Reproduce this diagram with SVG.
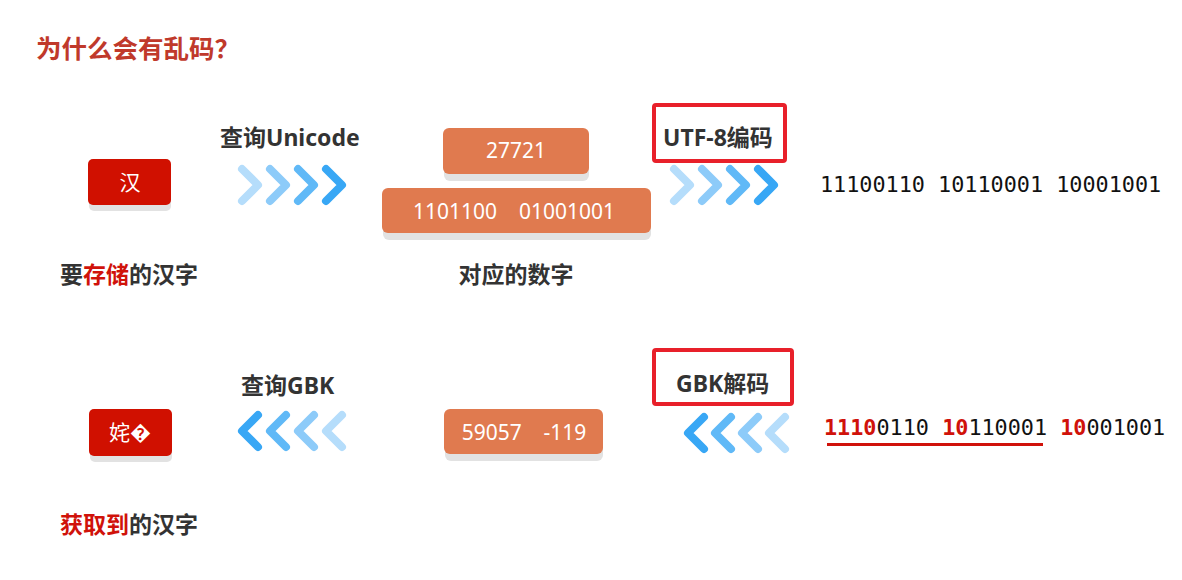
<svg xmlns="http://www.w3.org/2000/svg" width="1182" height="580" viewBox="0 0 1182 580">
<style>
.cjk{font-family:"Noto Sans CJK SC","Noto Sans",sans-serif;}
.lbl{font-family:"Noto Sans","Noto Sans CJK SC",sans-serif;font-weight:bold;font-size:23px;fill:#333;}
.red{fill:#d0120a;}
.boxr{fill:#d01000;}
.boxo{fill:#e07a4f;}
.shadow{fill:#e2e2e2;}
.wt{fill:#fff;font-family:"Noto Sans","Noto Sans CJK SC",sans-serif;font-size:21px;text-anchor:middle;}
.mono{font-family:"DejaVu Sans Mono",monospace;font-size:21.8px;fill:#111;}
.frame{fill:none;stroke:#e8202a;stroke-width:4;}
.ch{fill:none;stroke-width:8;stroke-linecap:round;stroke-linejoin:round;}
.c1{stroke:#b5ddfb;}.c2{stroke:#8dcbf9;}.c3{stroke:#60b9f7;}.c4{stroke:#38a7f5;}
</style>
<defs>
<path id="r" d="M-8,-16 L8,0 L-8,16"/>
<path id="l" d="M8,-16 L-8,0 L8,16"/>
</defs>
<rect width="1182" height="580" fill="#fff"/>
<text x="36" y="58" class="cjk" font-size="25.5" font-weight="bold" fill="#c0392b">为什么会有乱码？</text>

<g id="node-han">
<rect x="89" y="165" width="82" height="46" rx="5" class="shadow"/>
<rect x="88" y="159" width="83" height="46" rx="5" class="boxr"/>
<text x="130" y="190" class="wt">汉</text>
<text x="60" y="283" class="lbl">要<tspan class="red">存储</tspan>的汉字</text>
</g>

<g id="node-unicode-label">
<text x="220" y="146" class="lbl">查询Unicode</text>
</g>

<g id="node-numbers">
<rect x="444" y="135" width="145" height="46" rx="6" class="shadow"/>
<rect x="443" y="128" width="146" height="46" rx="6" class="boxo"/>
<text x="516" y="158" class="wt">27721</text>
<rect x="383" y="195" width="268" height="45" rx="6" class="shadow"/>
<rect x="382" y="188" width="269" height="45" rx="6" class="boxo"/>
<text x="514" y="219" class="wt" xml:space="preserve">1101100    01001001</text>
<text x="516" y="283" class="lbl" text-anchor="middle">对应的数字</text>
</g>

<g id="node-utf8">
<rect x="654" y="105" width="131" height="56" rx="2" class="frame"/>
<text x="663" y="146" class="lbl">UTF-8编码</text>
<text x="820" y="192" class="mono">11100110 10110001 10001001</text>
</g>

<g id="node-result">
<rect x="90" y="416" width="82" height="46" rx="5" class="shadow"/>
<rect x="89" y="409" width="83" height="47" rx="5" class="boxr"/>
<text x="130" y="440" class="wt">姹�</text>
<text x="60" y="533" class="lbl"><tspan class="red">获取到</tspan>的汉字</text>
</g>

<g id="node-gbk-label">
<text x="241" y="394" class="lbl">查询GBK</text>
</g>

<g id="node-gbk-numbers">
<rect x="445" y="416" width="158" height="45" rx="6" class="shadow"/>
<rect x="444" y="409" width="159" height="45" rx="6" class="boxo"/>
<text x="524" y="440" class="wt" xml:space="preserve">59057    -119</text>
</g>

<g id="node-gbk">
<rect x="654" y="350" width="138" height="54" rx="2" class="frame"/>
<text x="676" y="392" class="lbl">GBK解码</text>
<text x="824" y="435" class="mono" xml:space="preserve"><tspan fill="#d0120a" font-weight="bold">1110</tspan>0110 <tspan fill="#d0120a" font-weight="bold">10</tspan>110001 <tspan fill="#d0120a" font-weight="bold">10</tspan>001001</text>
<rect x="827" y="443" width="216" height="3" fill="#d0120a"/>
</g>

<g id="connectors">
<g class="ch">
<use href="#r" transform="translate(250,185)" class="c1"/>
<use href="#r" transform="translate(278,185)" class="c2"/>
<use href="#r" transform="translate(306,185)" class="c3"/>
<use href="#r" transform="translate(334,185)" class="c4"/>
<use href="#r" transform="translate(682,185)" class="c1"/>
<use href="#r" transform="translate(710,185)" class="c2"/>
<use href="#r" transform="translate(738,185)" class="c3"/>
<use href="#r" transform="translate(766,185)" class="c4"/>
<use href="#l" transform="translate(250,431)" class="c4"/>
<use href="#l" transform="translate(278,431)" class="c3"/>
<use href="#l" transform="translate(306,431)" class="c2"/>
<use href="#l" transform="translate(334,431)" class="c1"/>
<use href="#l" transform="translate(696,433)" class="c4"/>
<use href="#l" transform="translate(723,433)" class="c3"/>
<use href="#l" transform="translate(750,433)" class="c2"/>
<use href="#l" transform="translate(777,433)" class="c1"/>
</g>
</g>
</svg>
